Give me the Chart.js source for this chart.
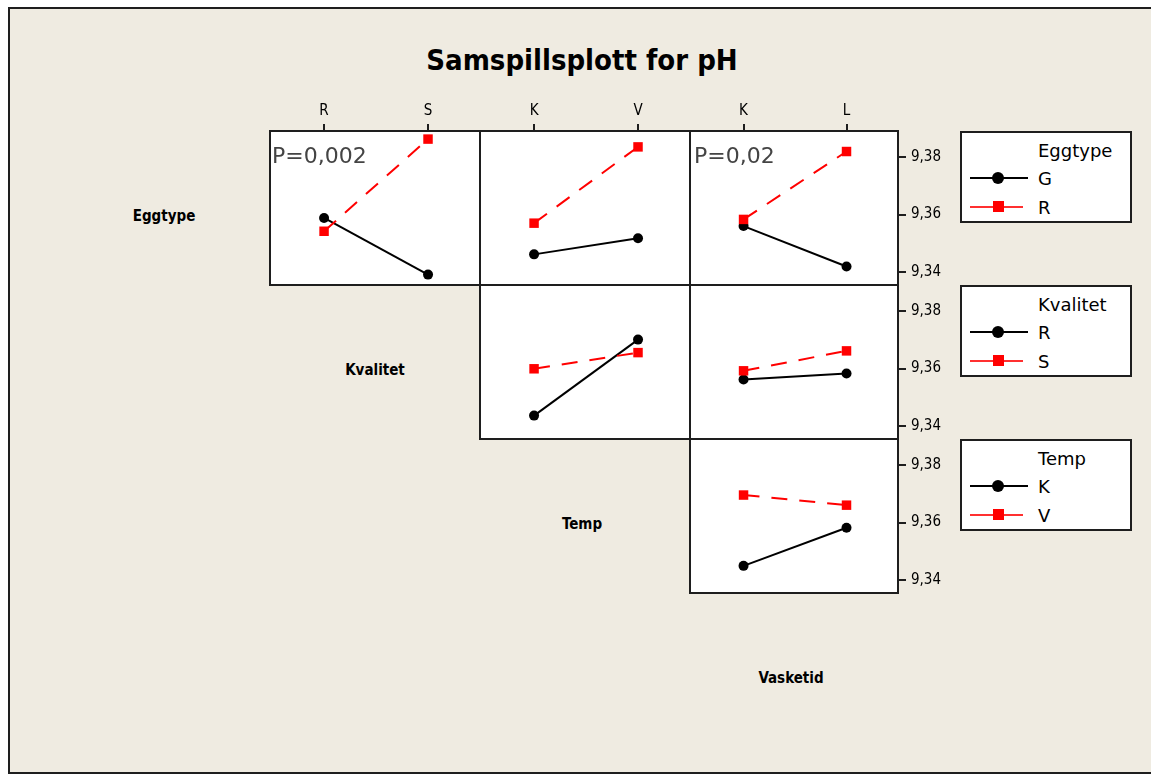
<!DOCTYPE html>
<html>
<head>
<meta charset="utf-8">
<script src="https://cdn.jsdelivr.net/npm/chart.js@4/dist/chart.umd.min.js"></script>
<style>
  html, body { margin: 0; padding: 0; background: #ffffff; }
  body { width: 1151px; height: 774px; position: relative; overflow: hidden; font-family: 'DejaVu Sans', sans-serif; }
  #frame { position: absolute; left: 8px; top: 7px; width: 1160px; height: 763px; background: #EFEBE1; border: 2px solid #1e1e1e; }
  canvas { position: absolute; }
  .txt { position: absolute; white-space: nowrap; line-height: 1; color: #000; }
  .title { font-weight: bold; font-size: 29px; font-stretch: condensed; font-family: 'DejaVu Sans Condensed', 'DejaVu Sans', sans-serif; transform: translateX(-50%); }
  .diag { font-weight: bold; font-size: 15px; font-stretch: condensed; font-family: 'DejaVu Sans Condensed', 'DejaVu Sans', sans-serif; transform: translateX(-50%); }
  .pval { font-size: 22px; color: #444; z-index: 5; }
  .legend { position: absolute; width: 168px; height: 88px; background: #fff; border: 2px solid #1e1e1e; z-index: 5; }
  .legend .ltitle, .legend .lentry { position: absolute; left: 76px; font-size: 18px; line-height: 1; white-space: nowrap; }
  .legend .lline { position: absolute; left: 8px; width: 58px; }
  .legend .mark { position: absolute; }
</style>
</head>
<body>
<div id="frame"></div>

<script>
// Factor levels
const eggtypeLevels = ['G', 'R'];
const kvalitetLevels = ['R', 'S'];
const tempLevels = ['K', 'V'];
const vasketidLevels = ['K', 'L'];

// Shared pH axis ticks
const phTicks = [9.34, 9.36, 9.38];

// Mean pH, Eggtype x Kvalitet
const eggKvalG = [9.3588, 9.3392];
const eggKvalR = [9.3542, 9.3861];
// Mean pH, Eggtype x Temp
const eggTempG = [9.3462, 9.3518];
const eggTempR = [9.3570, 9.3834];
// Mean pH, Eggtype x Vasketid
const eggVaskG = [9.3560, 9.3420];
const eggVaskR = [9.3583, 9.3818];
// Mean pH, Kvalitet x Temp
const kvalTempR = [9.3437, 9.3700];
const kvalTempS = [9.3599, 9.3655];
// Mean pH, Kvalitet x Vasketid
const kvalVaskR = [9.3562, 9.3583];
const kvalVaskS = [9.3592, 9.3661];
// Mean pH, Temp x Vasketid
const tempVaskK = [9.3450, 9.3582];
const tempVaskV = [9.3695, 9.3660];

// P-values shown in panels
const pLabels = ['P=0,002', 'P=0,02'];

// Grid geometry of the interaction matrix
const colLeft = [270, 480, 690];
const colRight = [480, 690, 898];
const rowTop = [131, 285, 439];
const rowH = 154;
const TOPAX = 31;   // space for the category axis above the first row
const RIGHTAX = 62; // space for the pH axis right of the last column
const M = 3;        // margin so the frame stroke is not clipped

const yMin = 9.3356, yMax = 9.3889;
const xMin = -0.52, xMax = 1.5;

const condensed = "'DejaVu Sans Condensed', 'DejaVu Sans', sans-serif";

const panelFrame = {
  id: 'panelFrame',
  beforeDraw(chart) {
    const { ctx, chartArea: a } = chart;
    ctx.save();
    ctx.fillStyle = '#ffffff';
    ctx.fillRect(a.left, a.top, a.right - a.left, a.bottom - a.top);
    ctx.restore();
  },
  afterDraw(chart) {
    const { ctx, chartArea: a } = chart;
    ctx.save();
    ctx.strokeStyle = '#1e1e1e';
    ctx.lineWidth = 2;
    ctx.strokeRect(Math.round(a.left), Math.round(a.top), Math.round(a.right - a.left), Math.round(a.bottom - a.top));
    ctx.restore();
  }
};

function toPoints(vals) {
  return vals.map((v, i) => ({ x: i, y: v }));
}

// Fixed axis sizes so every panel's plot area sits on the shared grid
function fixSize(s, horizontal, shown, size) {
  if (horizontal) s.height = shown ? size : 0;
  else s.width = shown ? size : 0;
  s.paddingTop = 0; s.paddingBottom = 0; s.paddingLeft = 0; s.paddingRight = 0;
}

function panel(row, col, xLevels, blackVals, redVals) {
  const w = colRight[col] - colLeft[col];
  const showX = row === 0;
  const showY = col === 2;
  const top = showX ? TOPAX : 0;
  const right = showY ? RIGHTAX : 0;
  const cv = document.createElement('canvas');
  cv.width = w + 2 * M + right;
  cv.height = rowH + 2 * M + top;
  cv.style.left = (colLeft[col] - M) + 'px';
  cv.style.top = (rowTop[row] - M - top) + 'px';
  cv.style.width = cv.width + 'px';
  cv.style.height = cv.height + 'px';
  document.body.appendChild(cv);

  new Chart(cv, {
    type: 'line',
    data: {
      datasets: [
        {
          data: toPoints(blackVals),
          borderColor: '#000000',
          backgroundColor: '#000000',
          borderWidth: 2,
          pointStyle: 'circle',
          pointRadius: 5,
          pointBorderWidth: 0,
          pointBackgroundColor: '#000000',
          order: 1
        },
        {
          data: toPoints(redVals),
          borderColor: '#ff0000',
          backgroundColor: '#ff0000',
          borderWidth: 2,
          borderDash: [16, 12],
          pointStyle: 'rect',
          pointRadius: 6.7,
          pointBorderWidth: 0,
          pointBackgroundColor: '#ff0000',
          order: 0
        }
      ]
    },
    options: {
      responsive: false,
      animation: false,
      devicePixelRatio: 1,
      layout: { autoPadding: false, padding: { left: M, right: M, top: M, bottom: M } },
      plugins: { legend: { display: false }, tooltip: { enabled: false } },
      scales: {
        x: {
          type: 'linear',
          position: 'top',
          display: showX,
          min: xMin,
          max: xMax,
          afterBuildTicks: s => { s.ticks = xLevels.map((_, i) => ({ value: i })); },
          afterFit: s => fixSize(s, true, showX, TOPAX),
          ticks: {
            callback: v => xLevels[v],
            color: '#000',
            padding: 4,
            maxRotation: 0,
            font: { family: condensed, size: 15 }
          },
          grid: { drawOnChartArea: false, drawTicks: true, tickLength: 7, color: '#1e1e1e', lineWidth: 2 },
          border: { display: false }
        },
        y: {
          type: 'linear',
          position: 'right',
          display: showY,
          min: yMin,
          max: yMax,
          afterBuildTicks: s => { s.ticks = phTicks.map(v => ({ value: v })); },
          afterFit: s => fixSize(s, false, showY, RIGHTAX),
          ticks: {
            callback: v => v.toFixed(2).replace('.', ','),
            color: '#000',
            padding: 5,
            font: { family: condensed, size: 15 }
          },
          grid: { drawOnChartArea: false, drawTicks: true, tickLength: 8, color: '#1e1e1e', lineWidth: 2 },
          border: { display: false }
        }
      }
    },
    plugins: [panelFrame]
  });
}

panel(0, 0, kvalitetLevels, eggKvalG, eggKvalR);
panel(0, 1, tempLevels, eggTempG, eggTempR);
panel(0, 2, vasketidLevels, eggVaskG, eggVaskR);
panel(1, 1, tempLevels, kvalTempR, kvalTempS);
panel(1, 2, vasketidLevels, kvalVaskR, kvalVaskS);
panel(2, 2, vasketidLevels, tempVaskK, tempVaskV);

function addText(cls, text, left, top) {
  const d = document.createElement('div');
  d.className = 'txt ' + cls;
  d.textContent = text;
  d.style.left = left + 'px';
  d.style.top = top + 'px';
  document.body.appendChild(d);
  return d;
}

// Title and factor names along the diagonal
addText('title', 'Samspillsplott for pH', 582, 46);
addText('diag', 'Eggtype', 164, 209);
addText('diag', 'Kvalitet', 375, 363);
addText('diag', 'Temp', 582, 517);
addText('diag', 'Vasketid', 791, 671);

// P-values
addText('pval', pLabels[0], 272, 145);
addText('pval', pLabels[1], 694, 145);

// Legends for the row factors
function legend(top, title, levels) {
  const box = document.createElement('div');
  box.className = 'legend';
  box.style.left = '960px';
  box.style.top = top + 'px';
  const t = document.createElement('div');
  t.className = 'ltitle';
  t.textContent = title;
  t.style.top = '9px';
  box.appendChild(t);
  levels.forEach((lv, i) => {
    const cy = 45 + i * 28.5;
    const red = i === 1;
    const line = document.createElement('div');
    line.className = 'lline';
    line.style.top = (cy - 1) + 'px';
    line.style.height = '2px';
    line.style.background = red ? '#ff3030' : '#000';
    if (red) line.style.width = '53px';
    box.appendChild(line);
    const mk = document.createElement('div');
    mk.className = 'mark';
    mk.style.width = red ? '11px' : '12px';
    mk.style.height = red ? '11px' : '12px';
    mk.style.left = (36 - (red ? 5.5 : 6)) + 'px';
    mk.style.top = (cy - (red ? 5.5 : 6)) + 'px';
    mk.style.background = red ? '#ff0000' : '#000';
    mk.style.borderRadius = red ? '0' : '50%';
    box.appendChild(mk);
    const e = document.createElement('div');
    e.className = 'lentry';
    e.textContent = lv;
    e.style.top = (cy - 8) + 'px';
    box.appendChild(e);
  });
  document.body.appendChild(box);
}

legend(131, 'Eggtype', eggtypeLevels);
legend(285, 'Kvalitet', kvalitetLevels);
legend(439, 'Temp', tempLevels);
</script>
</body>
</html>
